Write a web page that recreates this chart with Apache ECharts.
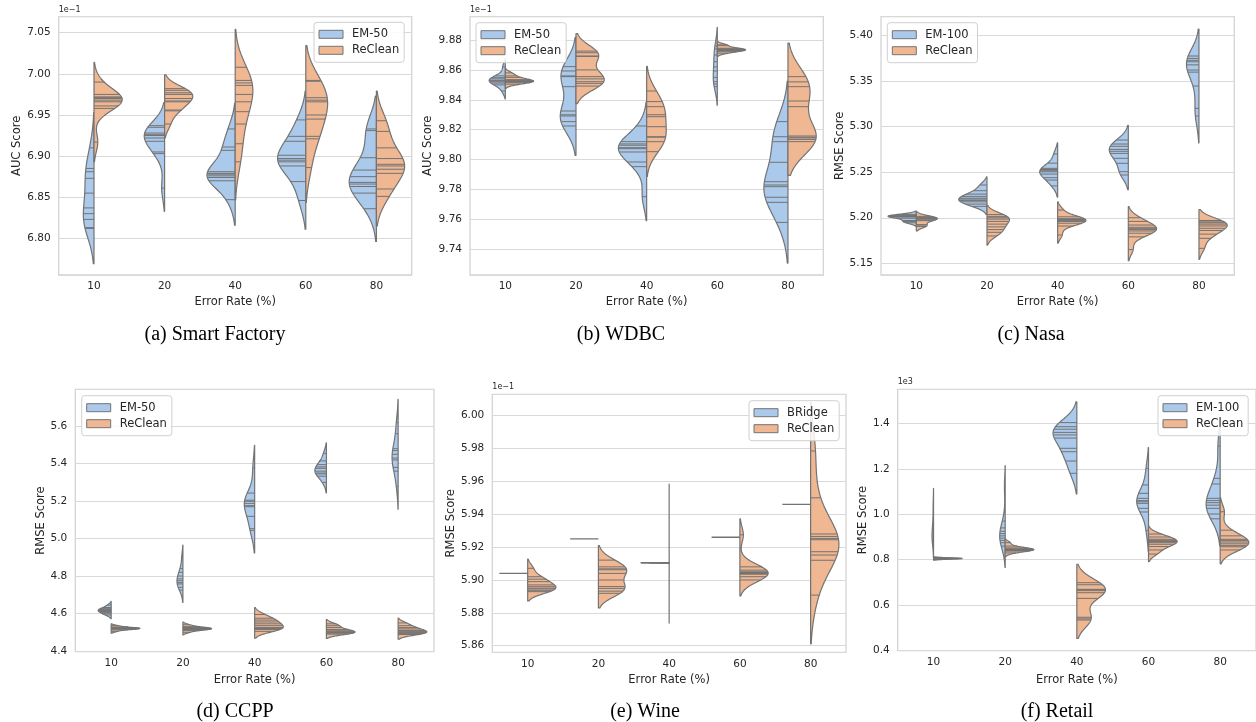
<!DOCTYPE html>
<html>
<head>
<meta charset="utf-8">
<title>Error rate violins</title>
<script src="https://cdn.jsdelivr.net/npm/echarts@6/dist/echarts.min.js"></script>
<style>
  html, body { margin: 0; background: #fff; }
  #chart { width: 1256px; height: 722px; }
</style>
</head>
<body>
<div id="chart"></div>
<script>
// error rates on the x axis
const errorRates = ['10', '20', '40', '60', '80'];

const smartEm50 = [
  [6.910, 6.885, 6.881, 6.873, 6.855, 6.837, 6.830, 6.823, 6.813, 6.812],
  [6.937, 6.935, 6.928, 6.926, 6.925, 6.922, 6.918, 6.905, 6.903, 6.861],
  [6.933, 6.911, 6.907, 6.881, 6.879, 6.878, 6.876, 6.874, 6.870, 6.847],
  [6.944, 6.924, 6.918, 6.901, 6.897, 6.895, 6.893, 6.888, 6.869, 6.846],
  [6.933, 6.931, 6.898, 6.883, 6.875, 6.868, 6.866, 6.863, 6.855, 6.836]
];
const smartReclean = [
  [6.990, 6.975, 6.972, 6.971, 6.970, 6.968, 6.966, 6.961, 6.958, 6.917],
  [6.982, 6.980, 6.977, 6.975, 6.970, 6.967, 6.966, 6.956, 6.955, 6.939],
  [7.008, 6.992, 6.989, 6.986, 6.975, 6.966, 6.954, 6.939, 6.915, 6.893],
  [6.992, 6.991, 6.971, 6.968, 6.966, 6.950, 6.945, 6.924, 6.921, 6.886],
  [6.943, 6.930, 6.910, 6.897, 6.890, 6.888, 6.884, 6.879, 6.860, 6.851]
];
const wdbcEm50 = [
  [9.8620, 9.8560, 9.8548, 9.8540, 9.8530, 9.8526, 9.8520, 9.8512, 9.8500, 9.8459],
  [9.8622, 9.8593, 9.8560, 9.8555, 9.8488, 9.8325, 9.8300, 9.8292, 9.8254, 9.8225],
  [9.8225, 9.8120, 9.8105, 9.8096, 9.8080, 9.8073, 9.8051, 9.7984, 9.7953, 9.7752],
  [9.8760, 9.8740, 9.8700, 9.8655, 9.8620, 9.8593, 9.8550, 9.8521, 9.8505, 9.8488],
  [9.8254, 9.8153, 9.8120, 9.7982, 9.7852, 9.7830, 9.7819, 9.7748, 9.7714, 9.7580]
];
const wdbcReclean = [
  [9.8580, 9.8560, 9.8550, 9.8535, 9.8528, 9.8526, 9.8524, 9.8522, 9.8515, 9.8505],
  [9.8726, 9.8715, 9.8693, 9.8690, 9.8600, 9.8555, 9.8540, 9.8521, 9.8510, 9.8492],
  [9.8459, 9.8388, 9.8354, 9.8300, 9.8287, 9.8220, 9.8153, 9.8150, 9.8120, 9.8053],
  [9.8768, 9.8762, 9.8745, 9.8740, 9.8738, 9.8735, 9.8731, 9.8729, 9.8722, 9.8712],
  [9.8555, 9.8520, 9.8488, 9.8392, 9.8354, 9.8158, 9.8150, 9.8145, 9.8135, 9.8120]
];
const nasaEm100 = [
  [5.2035, 5.2022, 5.2020, 5.2018, 5.2015, 5.2008, 5.1995, 5.1970, 5.1958, 5.1945],
  [5.2360, 5.2297, 5.2260, 5.2235, 5.2215, 5.2205, 5.2190, 5.2175, 5.2150, 5.2125],
  [5.2700, 5.2600, 5.2543, 5.2530, 5.2517, 5.2505, 5.2480, 5.2440, 5.2414, 5.2350],
  [5.2854, 5.2810, 5.2785, 5.2751, 5.2730, 5.2707, 5.2653, 5.2598, 5.2506, 5.2470],
  [5.3777, 5.3751, 5.3730, 5.3714, 5.3680, 5.3623, 5.3600, 5.3447, 5.3202, 5.3118]
];
const nasaReclean = [
  [5.2015, 5.2005, 5.1998, 5.1992, 5.1985, 5.1975, 5.1968, 5.1925, 5.1910, 5.1905],
  [5.2035, 5.2015, 5.2000, 5.1985, 5.1960, 5.1930, 5.1900, 5.1870, 5.1840, 5.1800],
  [5.2085, 5.2010, 5.1990, 5.1980, 5.1975, 5.1968, 5.1960, 5.1940, 5.1909, 5.1810],
  [5.2000, 5.1960, 5.1920, 5.1895, 5.1880, 5.1870, 5.1855, 5.1830, 5.1790, 5.1650],
  [5.1970, 5.1955, 5.1945, 5.1930, 5.1910, 5.1884, 5.1860, 5.1820, 5.1774, 5.1664]
];
const ccppEm50 = [
  [4.645, 4.632, 4.626, 4.621, 4.618, 4.615, 4.611, 4.605, 4.599, 4.592],
  [4.900, 4.840, 4.820, 4.800, 4.785, 4.775, 4.765, 4.758, 4.740, 4.725],
  [5.377, 5.243, 5.205, 5.199, 5.188, 5.176, 5.170, 5.119, 5.053, 5.044],
  [5.455, 5.415, 5.395, 5.383, 5.375, 5.360, 5.350, 5.345, 5.333, 5.300],
  [5.620, 5.560, 5.480, 5.470, 5.450, 5.430, 5.420, 5.380, 5.360, 5.280]
];
const ccppReclean = [
  [4.535, 4.528, 4.524, 4.522, 4.521, 4.520, 4.519, 4.517, 4.513, 4.505],
  [4.540, 4.530, 4.525, 4.522, 4.520, 4.519, 4.517, 4.514, 4.510, 4.500],
  [4.595, 4.575, 4.565, 4.555, 4.545, 4.535, 4.525, 4.520, 4.515, 4.505],
  [4.545, 4.535, 4.525, 4.515, 4.508, 4.503, 4.500, 4.498, 4.495, 4.490],
  [4.550, 4.535, 4.525, 4.518, 4.510, 4.505, 4.500, 4.497, 4.493, 4.488]
];
const wineBridge = [
  [5.904],
  [5.925],
  [5.91050, 5.91051, 5.91049, 5.91052, 5.91048, 5.91050, 5.91051, 5.91049, 5.91050, 5.91050],
  [5.926],
  [5.946]
];
const wineReclean = [
  [5.9071, 5.9020, 5.9005, 5.8990, 5.8970, 5.8959, 5.8950, 5.8945, 5.8935, 5.8929],
  [5.9121, 5.9080, 5.9068, 5.9062, 5.9040, 5.9000, 5.8960, 5.8949, 5.8932, 5.8919],
  [5.9410, 5.9182, 5.9120, 5.9105, 5.9100, 5.9080, 5.9050, 5.9010, 5.8950, 5.8912],
  [5.9275, 5.9080, 5.9060, 5.9050, 5.9045, 5.9042, 5.9040, 5.9035, 5.9020, 5.9000],
  [5.9785, 5.9500, 5.9280, 5.9265, 5.9253, 5.9245, 5.9172, 5.9152, 5.9120, 5.8908]
];
const retailEm100 = [
  [1.045, 1.000, 0.960, 0.930, 0.920, 0.910, 0.900, 0.890, 0.885, 0.878],
  [1.120, 0.970, 0.940, 0.925, 0.915, 0.905, 0.895, 0.885, 0.875, 0.860],
  [1.403, 1.385, 1.374, 1.360, 1.349, 1.335, 1.290, 1.275, 1.234, 1.180],
  [1.202, 1.129, 1.092, 1.070, 1.060, 1.055, 1.048, 1.026, 1.010, 0.928],
  [1.300, 1.158, 1.133, 1.070, 1.060, 1.051, 1.040, 1.026, 1.001, 0.980]
];
const retailReclean = [
  [0.810, 0.808, 0.807, 0.806, 0.806, 0.805, 0.805, 0.804, 0.803, 0.801],
  [0.875, 0.860, 0.852, 0.848, 0.846, 0.845, 0.843, 0.841, 0.838, 0.830],
  [0.699, 0.690, 0.670, 0.668, 0.664, 0.655, 0.630, 0.547, 0.540, 0.535],
  [0.913, 0.900, 0.890, 0.885, 0.880, 0.875, 0.868, 0.858, 0.843, 0.825],
  [1.011, 0.930, 0.905, 0.890, 0.885, 0.878, 0.870, 0.862, 0.857, 0.843]
];

const blue = '#abc9ea';
const orange = '#efb792';
const gray = '#737373';
const font = 'DejaVu Sans';
const ink = '#262626';

// one entry per subplot: placement and axis setup
const panels = [
  { box: [58.7, 16.7, 353, 258.3], y: [6.7554, 7.0695], split: 6, step: 0.05, dec: 2,
    yName: 'AUC Score', yGap: 35, xGap: 21, offset: '1e\u22121',
    caption: '(a) Smart Factory', cap: [215, 335], legend: [314, 22.3],
    hues: ['EM-50', 'ReClean'], data: [smartEm50, smartReclean] },
  { box: [470, 16.7, 353.3, 258.3], y: [9.7228, 9.8956], split: 8, step: 0.02, dec: 2,
    yName: 'AUC Score', yGap: 36, xGap: 21, offset: '1e\u22121',
    caption: '(b) WDBC', cap: [621, 335], legend: [476, 22.7],
    hues: ['EM-50', 'ReClean'], data: [wdbcEm50, wdbcReclean] },
  { box: [881, 16.7, 353.3, 258.3], y: [5.1371, 5.4209], split: 5, step: 0.05, dec: 2,
    yName: 'RMSE Score', yGap: 34, xGap: 21, offset: '',
    caption: '(c) Nasa', cap: [1031, 335], legend: [887.3, 22.7],
    hues: ['EM-100', 'ReClean'], data: [nasaEm100, nasaReclean] },
  { box: [75.3, 389.3, 358.7, 262.4], y: [4.3963, 5.797], split: 7, step: 0.2, dec: 1,
    yName: 'RMSE Score', yGap: 28, xGap: 22, offset: '',
    caption: '(d) CCPP', cap: [235, 712], legend: [81.7, 395.7],
    hues: ['EM-50', 'ReClean'], data: [ccppEm50, ccppReclean] },
  { box: [492.3, 394.3, 353.7, 258], y: [5.856, 6.013], split: 7, step: 0.02, dec: 2,
    yName: 'RMSE Score', yGap: 35, xGap: 22, offset: '1e\u22121',
    caption: '(e) Wine', cap: [645, 712], legend: [749, 400.7],
    hues: ['BRidge', 'ReClean'], data: [wineBridge, wineReclean] },
  { box: [897.7, 389.3, 359, 261.4], y: [0.4, 1.5495], split: 6, step: 0.2, dec: 1,
    yName: 'RMSE Score', yGap: 29, xGap: 23, offset: '1e3',
    caption: '(f) Retail', cap: [1057, 712], legend: [1158, 395.7],
    hues: ['EM-100', 'ReClean'], data: [retailEm100, retailReclean] }
];

// gaussian kde with scott's bandwidth, cut = 2, 100 grid points
function violinHalf(obs) {
  const n = obs.length;
  const mean = obs.reduce((a, b) => a + b, 0) / n;
  const sd = n > 1 ? Math.sqrt(obs.reduce((a, b) => a + (b - mean) * (b - mean), 0) / (n - 1)) : 0;
  if (sd === 0) return { single: obs[0], peak: 0 };
  const bw = sd * Math.pow(n, -0.2);
  const lo = Math.min(...obs) - 2 * bw;
  const hi = Math.max(...obs) + 2 * bw;
  const support = [];
  const density = [];
  for (let i = 0; i < 100; i++) {
    const y = lo + (hi - lo) * i / 99;
    let s = 0;
    for (const x of obs) s += Math.exp(-0.5 * ((y - x) / bw) * ((y - x) / bw));
    support.push(y);
    density.push(s / (n * bw * Math.sqrt(2 * Math.PI)));
  }
  return { obs, support, density, peak: Math.max(...density) };
}

function makeRenderer(halves, side, fill) {
  return function (params, api) {
    const c = params.dataIndex;
    const v = halves[c];
    const maxW = api.size([1, 0])[0] * 0.4;
    const cx = api.coord([c, v.single !== undefined ? v.single : v.support[0]])[0];
    if (v.single !== undefined) {
      const y = api.coord([c, v.single])[1];
      return { type: 'line', shape: { x1: cx + side * maxW, y1: y, x2: cx, y2: y },
        style: { stroke: gray, lineWidth: 1.3 } };
    }
    const pts = v.support.map((s, i) => [cx + side * v.density[i] * maxW, api.coord([c, s])[1]]);
    pts.unshift([cx, pts[0][1]]);
    pts.push([cx, pts[pts.length - 1][1]]);
    const children = [{ type: 'polygon', shape: { points: pts },
      style: { fill, stroke: gray, lineWidth: 1.2, lineJoin: 'round' } }];
    v.obs.forEach(o => {
      let idx = 0;
      v.support.forEach((s, i) => { if (Math.abs(s - o) < Math.abs(v.support[idx] - o)) idx = i; });
      const w = maxW * v.density[idx] * 0.99;
      const y = api.coord([c, o])[1];
      children.push({ type: 'line', shape: { x1: cx, y1: y, x2: cx + side * w, y2: y },
        style: { stroke: gray, lineWidth: 1 } });
    });
    return { type: 'group', children };
  };
}

const grids = [], xAxes = [], yAxes = [], series = [], legends = [], texts = [];

panels.forEach((p, g) => {
  grids.push({ left: p.box[0], top: p.box[1], width: p.box[2], height: p.box[3],
    show: true, borderColor: '#d4d4d4', borderWidth: 1.3 });

  xAxes.push({
    type: 'category', gridIndex: g, data: errorRates, boundaryGap: true,
    axisLine: { show: false }, axisTick: { show: false }, splitLine: { show: false },
    axisLabel: { margin: 6, fontFamily: font, fontSize: 10.5, color: ink },
    name: 'Error Rate (%)', nameLocation: 'middle', nameGap: p.xGap,
    nameTextStyle: { fontFamily: font, fontSize: 11.5, color: ink }
  });

  yAxes.push({
    type: 'value', gridIndex: g, min: p.y[0], max: p.y[1], splitNumber: p.split,
    axisLine: { show: false }, axisTick: { show: false },
    axisLabel: {
      margin: 8, fontFamily: font, fontSize: 10.5, color: ink,
      formatter: v => Math.abs(v / p.step - Math.round(v / p.step)) < 1e-6 ? v.toFixed(p.dec) : ''
    },
    splitLine: { lineStyle: { color: '#d9d9d9', width: 1 } },
    name: p.yName, nameLocation: 'middle', nameGap: p.yGap,
    nameTextStyle: { fontFamily: font, fontSize: 11.5, color: ink }
  });

  // density per half, scaled by the larger peak at each error rate
  const halves = p.data.map(d => d.map(violinHalf));
  errorRates.forEach((r, c) => {
    const m = Math.max(halves[0][c].peak, halves[1][c].peak);
    halves.forEach(h => { if (h[c].density) h[c].density = h[c].density.map(v => v / m); });
  });

  halves.forEach((h, k) => {
    const fill = k === 0 ? blue : orange;
    series.push({
      type: 'custom', name: p.hues[k], xAxisIndex: g, yAxisIndex: g,
      clip: true, silent: true,
      itemStyle: { color: fill, borderColor: gray, borderWidth: 1 },
      data: errorRates.map((r, c) => [c, p.data[k][c][0]]),
      renderItem: makeRenderer(h, k === 0 ? -1 : 1, fill)
    });
  });

  legends.push({
    orient: 'vertical', left: p.legend[0], top: p.legend[1],
    data: p.hues, icon: 'rect', itemWidth: 24, itemHeight: 8, itemGap: 4,
    padding: [6, 5, 6, 4.5], selectedMode: false,
    backgroundColor: 'rgba(255,255,255,0.85)', borderColor: '#d0d0d0', borderWidth: 1, borderRadius: 3,
    itemStyle: { borderColor: gray, borderWidth: 1 },
    textStyle: { fontFamily: font, fontSize: 11.5, color: ink, lineHeight: 12, padding: [0, 0, 0, 4] }
  });

  if (p.offset) {
    texts.push({ type: 'text', left: p.box[0], top: p.box[1] - 11,
      style: { text: p.offset, font: '8px "DejaVu Sans"', fill: ink } });
  }
  texts.push({ type: 'text', x: p.cap[0], y: p.cap[1],
    style: { text: p.caption, font: '20px "Liberation Serif"', fill: '#000',
      textAlign: 'center', textVerticalAlign: 'middle' } });
});

const chart = echarts.init(document.getElementById('chart'));
chart.setOption({
  animation: false,
  backgroundColor: '#fff',
  grid: grids,
  xAxis: xAxes,
  yAxis: yAxes,
  legend: legends,
  graphic: texts,
  series
});
</script>
</body>
</html>
